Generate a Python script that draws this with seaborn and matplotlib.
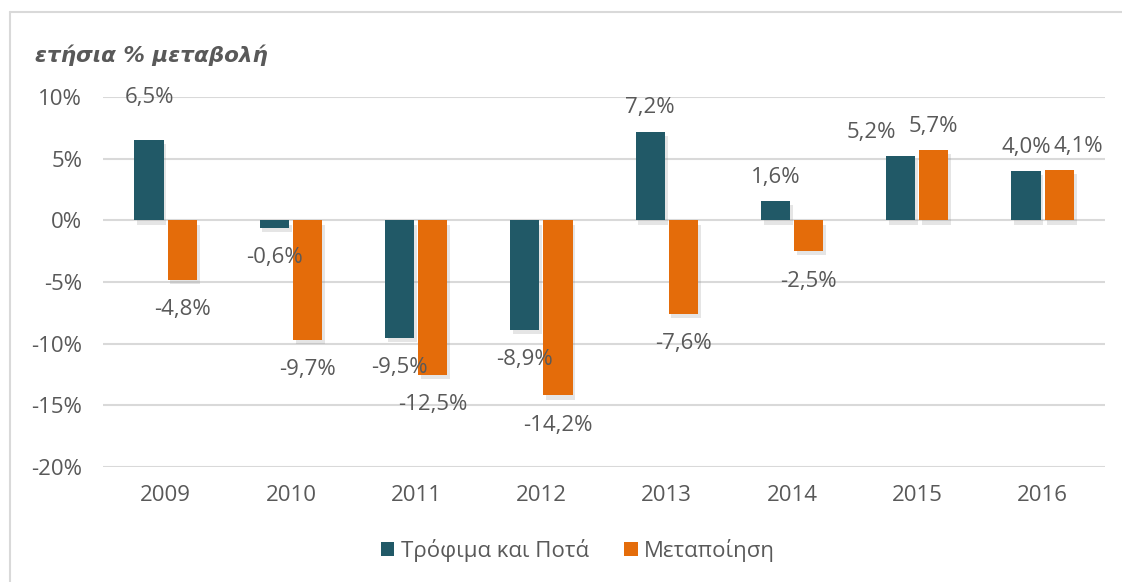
import matplotlib
matplotlib.use("Agg")
import matplotlib.pyplot as plt
import matplotlib.patheffects as pe
from matplotlib.lines import Line2D
from matplotlib.patches import Patch
import pandas as pd
import seaborn as sns

sns.set_theme(style="white")
plt.rcParams["font.family"] = ["Open Sans", "Noto Sans", "DejaVu Sans"]

years = ["2009", "2010", "2011", "2012", "2013", "2014", "2015", "2016"]
food = [6.5, -0.6, -9.5, -8.9, 7.2, 1.6, 5.2, 4.0]
manuf = [-4.8, -9.7, -12.5, -14.2, -7.6, -2.5, 5.7, 4.1]
series = ["Τρόφιμα και Ποτά", "Μεταποίηση"]
colors = ["#215967", "#E46C0A"]
title = "ετήσια % μεταβολή"

# manual label nudges (points), like the moved labels in the original
nudges = {(0, 0): (0, 14), (0, 6): (-21, 0), (1, 7): (14, 0)}

TEXT = "#595959"
GRID = "#d9d9d9"
FS = 16


def main():
    df = pd.DataFrame({
        "year": years * 2,
        "value": food + manuf,
        "series": [series[0]] * len(years) + [series[1]] * len(years),
    })

    fig = plt.figure(figsize=(11.22, 5.82), dpi=100)
    ax = fig.add_axes([0.0918, 0.1976, 0.8932, 0.6357])

    sns.barplot(data=df, x="year", y="value", hue="series", palette=colors,
                width=0.53, gap=0.12, saturation=1, legend=False, ax=ax)

    shadow = [pe.SimplePatchShadow(offset=(2, -3), shadow_rgbFace="0.5", alpha=0.2),
              pe.Normal()]
    for p in ax.patches:
        p.set_path_effects(shadow)
        p.set_linewidth(0)

    ax.set_ylim(-20, 10)
    ax.set_xlim(-0.5, len(years) - 0.5)
    ax.set_yticks(range(-20, 11, 5))
    ax.set_yticklabels([f"{v}%" for v in range(-20, 11, 5)])
    ax.grid(axis="y", color=GRID, linewidth=1.5)
    ax.set_axisbelow(True)
    for s in ax.spines.values():
        s.set_visible(False)
    ax.tick_params(axis="y", length=0, pad=15, labelsize=FS, labelcolor=TEXT)
    ax.tick_params(axis="x", length=0, pad=13, labelsize=FS, labelcolor=TEXT)
    ax.set_xlabel("")
    ax.set_ylabel("")

    for si, cont in enumerate(ax.containers):
        vals = food if si == 0 else manuf
        for i, (bar, v) in enumerate(zip(cont, vals)):
            x = bar.get_x() + bar.get_width() / 2
            dx, dy = nudges.get((si, i), (0, 0))
            off = 17 if v >= 0 else -21.5
            ax.annotate(f"{v:.1f}%".replace(".", ","), (x, v),
                        xytext=(dx, off + dy), textcoords="offset points",
                        ha="center", va="center", fontsize=FS, color=TEXT)

    fig.text(35 / 1122, 1 - 55 / 582, title, ha="left", va="center",
             fontsize=15.5, fontweight="bold", fontstyle="oblique", color=TEXT,
             family=["DejaVu Sans"])

    handles = [Patch(facecolor=c, edgecolor="none") for c in colors]
    fig.legend(handles, series, loc="center", bbox_to_anchor=(578 / 1122, 1 - 550 / 582),
               ncol=2, frameon=False, fontsize=FS, labelcolor=TEXT,
               handlelength=0.6, handleheight=0.6, handletextpad=0.3, columnspacing=1.6)

    # chart-area frame
    fig.add_artist(Line2D([10 / 1122, 10 / 1122], [0, 1 - 12 / 582], color=GRID, lw=1.5))
    fig.add_artist(Line2D([10 / 1122, 1], [1 - 12 / 582, 1 - 12 / 582], color=GRID, lw=1.5))

    fig.savefig("out.png", dpi=100)


if __name__ == "__main__":
    main()
